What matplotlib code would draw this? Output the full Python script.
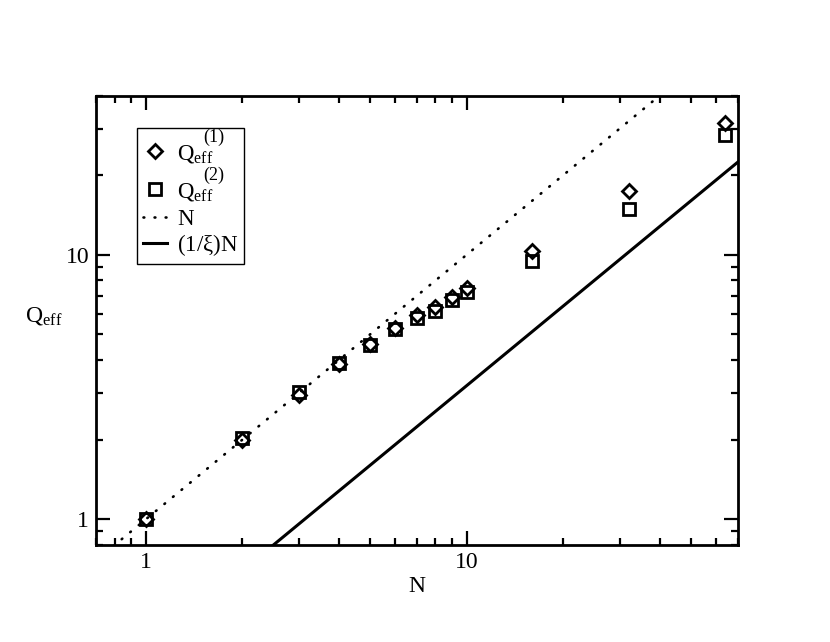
import numpy as np
import matplotlib
matplotlib.use("Agg")
from matplotlib import pyplot as plt
from matplotlib.offsetbox import DrawingArea
from matplotlib.ticker import LogLocator, NullFormatter, FixedLocator, FixedFormatter

plt.rcParams['font.family'] = ['Liberation Serif', 'DejaVu Serif']
plt.rcParams['mathtext.fontset'] = 'custom'
plt.rcParams['mathtext.rm'] = 'Liberation Serif'
plt.rcParams['mathtext.it'] = 'Liberation Serif'

# data
n_vals = [1, 2, 3, 4, 5, 6, 7, 8, 9, 10, 16, 32, 64]
q_eff1 = [1.0, 1.99, 2.94, 3.87, 4.62, 5.30, 5.90, 6.35, 6.95, 7.50, 10.35, 17.4, 31.4]
q_eff2 = [1.0, 2.03, 3.02, 3.90, 4.55, 5.25, 5.75, 6.15, 6.75, 7.25, 9.44, 14.9, 28.5]
inv_xi = 0.32
line_n = [0.7, 70]

fig = plt.figure(figsize=(8.3, 6.42), dpi=100)
ax = fig.add_axes([0.1157, 0.1511, 0.7731, 0.7000])

ax.plot(line_n, line_n, color='black', lw=1.9, linestyle=(0, (0.3, 3.9)),
        dash_capstyle='round', label='N', zorder=2)
ax.plot(line_n, [inv_xi * v for v in line_n], color='black', lw=2.2,
        label=r'(1/$\xi$)N', zorder=2)
ax.plot(n_vals, q_eff1, linestyle='none', marker='D', ms=7.5, mfc='none',
        mec='black', mew=2, label=r'Q$_{\mathrm{eff}}$', zorder=3)
ax.plot(n_vals, q_eff2, linestyle='none', marker='s', ms=8.5, mfc='none',
        mec='black', mew=2, label=r'Q$_{\mathrm{eff}}$', zorder=3)

ax.set_xscale('log')
ax.set_yscale('log')
ax.set_xlim(0.7, 70)
ax.set_ylim(0.8, 40)

for axis in (ax.xaxis, ax.yaxis):
    axis.set_major_locator(FixedLocator([1, 10]))
    axis.set_major_formatter(FixedFormatter(['1', '10']))
    axis.set_minor_locator(LogLocator(base=10, subs=np.arange(2, 10)))
    axis.set_minor_formatter(NullFormatter())

ax.tick_params(which='both', direction='in', top=True, right=True, labelsize=17)
ax.tick_params(which='major', length=10, width=1.6, pad=5)
ax.tick_params(which='minor', length=5, width=1.6)
for s in ax.spines.values():
    s.set_linewidth(2)

ax.set_xlabel('N', fontsize=17, labelpad=2)
ax.set_ylabel(r'Q$_{\mathrm{eff}}$', fontsize=17, rotation=0, ha='center', va='center')
ax.yaxis.set_label_coords(-0.082, 0.51)

handles, labels = ax.get_legend_handles_labels()
order = [2, 3, 0, 1]
leg = ax.legend([handles[i] for i in order], [labels[i] for i in order],
                loc='upper left', bbox_to_anchor=(0.064, 0.928), borderaxespad=0,
                fontsize=16.5, fancybox=False, framealpha=1, edgecolor='black',
                handlelength=1.05, handletextpad=0.45, labelspacing=0.1,
                borderpad=0.25)
leg.get_frame().set_linewidth(1.0)

# extra room above the Q rows for the raised superscripts
rows = leg._legend_handle_box.get_children()[0].get_children()
rows.insert(0, DrawingArea(1, 5))
rows.insert(2, DrawingArea(1, 8))
rows.insert(4, DrawingArea(1, 1))

# raised superscripts after the subscript, as in the original
for txt, sup in zip(leg.get_texts()[:2], ['(1)', '(2)']):
    ax.annotate(sup, xy=(0, 1.0), xycoords=txt, xytext=(19, 4),
                textcoords='offset points', ha='left', va='center',
                fontsize=13, zorder=6)

fig.savefig('out.png', dpi=100)
